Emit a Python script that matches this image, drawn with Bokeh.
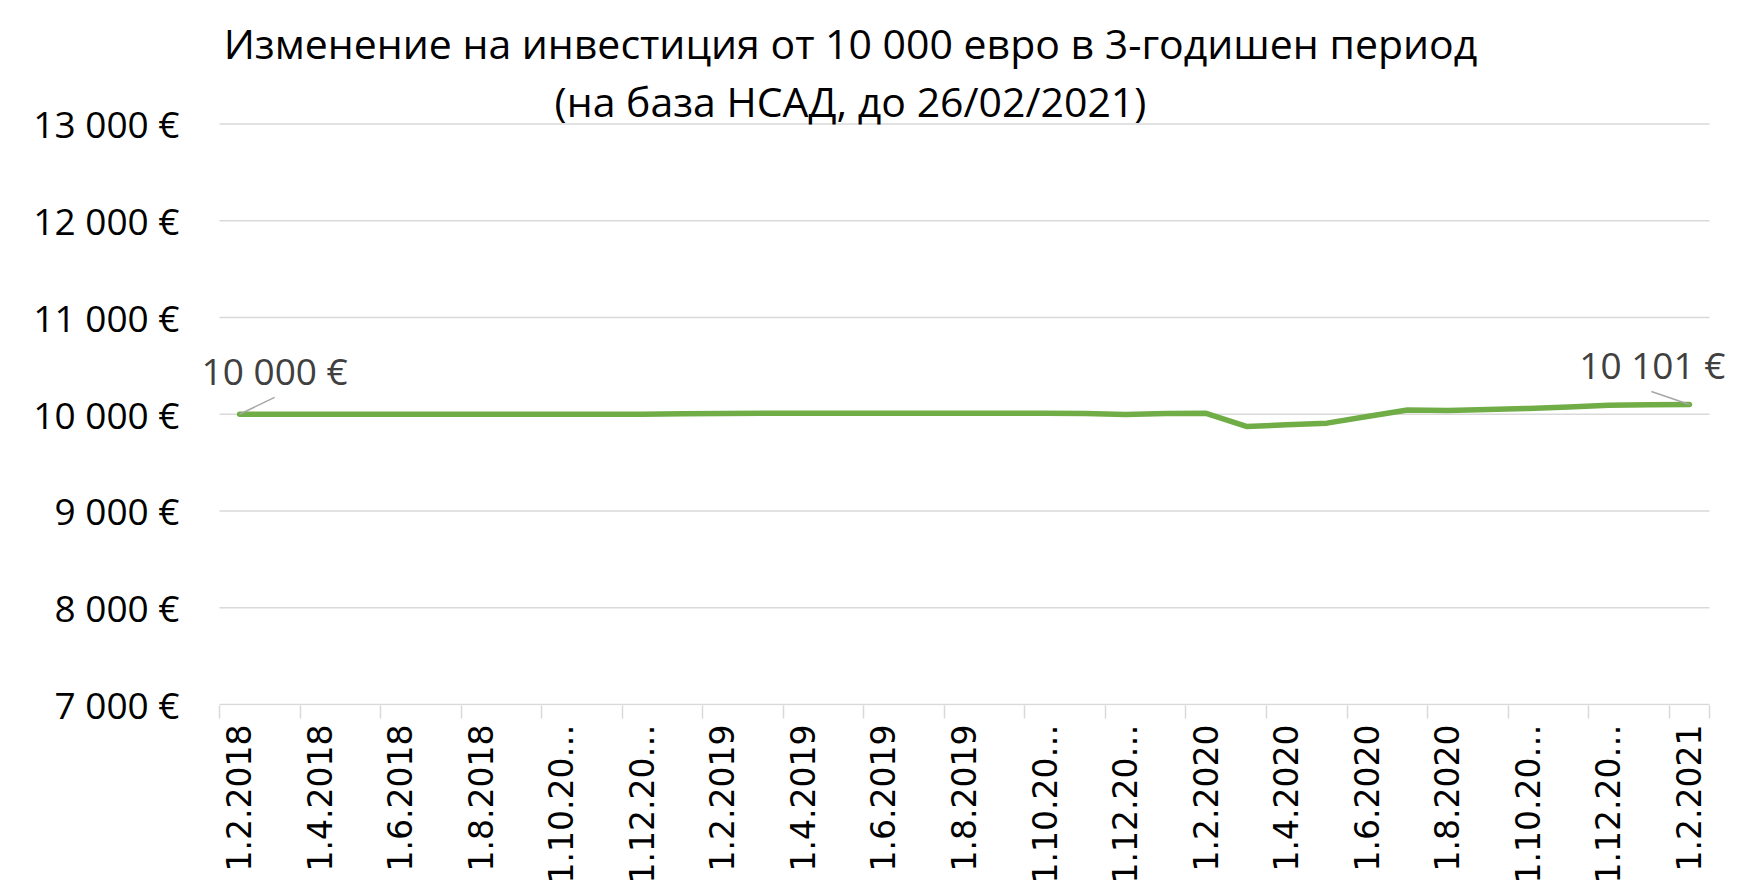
import math
from bokeh.plotting import figure
from bokeh.models import FixedTicker
from bokeh.embed import file_html
from bokeh.resources import INLINE
from bokeh.core.properties import value

# ---------------- data ----------------
dates = [
    "1.2.2018", "1.3.2018", "1.4.2018", "1.5.2018", "1.6.2018", "1.7.2018",
    "1.8.2018", "1.9.2018", "1.10.2018", "1.11.2018", "1.12.2018",
    "1.1.2019", "1.2.2019", "1.3.2019", "1.4.2019", "1.5.2019", "1.6.2019",
    "1.7.2019", "1.8.2019", "1.9.2019", "1.10.2019", "1.11.2019", "1.12.2019",
    "1.1.2020", "1.2.2020", "1.3.2020", "1.4.2020", "1.5.2020", "1.6.2020",
    "1.7.2020", "1.8.2020", "1.9.2020", "1.10.2020", "1.11.2020", "1.12.2020",
    "1.1.2021", "1.2.2021",
]
values = [
    10000, 10000, 10000, 10000, 10000, 10000, 10000, 10000, 10000, 10000, 10001,
    10004, 10008, 10009, 10009, 10009, 10009, 10009, 10009, 10009, 10009, 10008,
    9998, 10007, 10010, 9874, 9891, 9908, 9976, 10044, 10038, 10048, 10060,
    10075, 10094, 10099, 10101,
]
tick_labels = [
    "1.2.2018", "1.4.2018", "1.6.2018", "1.8.2018", "1.10.20\u2026", "1.12.20\u2026",
    "1.2.2019", "1.4.2019", "1.6.2019", "1.8.2019", "1.10.20\u2026", "1.12.20\u2026",
    "1.2.2020", "1.4.2020", "1.6.2020", "1.8.2020", "1.10.20\u2026", "1.12.20\u2026",
    "1.2.2021",
]
y_ticks = [7000, 8000, 9000, 10000, 11000, 12000, 13000]
y_tick_labels = ["7 000 \u20ac", "8 000 \u20ac", "9 000 \u20ac", "10 000 \u20ac",
                 "11 000 \u20ac", "12 000 \u20ac", "13 000 \u20ac"]
title_lines = ["\u0418\u0437\u043c\u0435\u043d\u0435\u043d\u0438\u0435 \u043d\u0430 \u0438\u043d\u0432\u0435\u0441\u0442\u0438\u0446\u0438\u044f \u043e\u0442 10 000 \u0435\u0432\u0440\u043e \u0432 3-\u0433\u043e\u0434\u0438\u0448\u0435\u043d \u043f\u0435\u0440\u0438\u043e\u0434",
               "(\u043d\u0430 \u0431\u0430\u0437\u0430 \u041d\u0421\u0410\u0414, \u0434\u043e 26/02/2021)"]
end_labels = ["10 000 \u20ac", "10 101 \u20ac"]

# ---------------- layout (pixels) ----------------
W, H = 1760, 886
FRAME_L, FRAME_R, FRAME_B = 190, 1745, 708      # drawing frame on the canvas
PLOT_L, PLOT_R = 219, 1709                       # category area
PLOT_T, PLOT_B = 124, 707                        # 13 000 and 7 000 lines

n = len(dates)
x = list(range(n))
px_x = (PLOT_R - PLOT_L) / n
px_y = (PLOT_B - PLOT_T) / (y_ticks[-1] - y_ticks[0])
x_lo, x_hi = -0.5, n - 0.5
x_start = x_lo - (PLOT_L - FRAME_L) / px_x
x_end = x_hi + (FRAME_R - PLOT_R) / px_x
y_start = y_ticks[0] - (FRAME_B - PLOT_B) / px_y
y_end = y_ticks[-1] + PLOT_T / px_y

p = figure(width=W, height=H, output_backend="svg", toolbar_location=None,
           x_range=(x_start, x_end), y_range=(y_start, y_end),
           min_border_left=FRAME_L, min_border_right=W - FRAME_R,
           min_border_top=0, min_border_bottom=H - FRAME_B)
p.outline_line_color = None
p.background_fill_color = "white"
p.border_fill_color = "white"

GRID = "#d9d9d9"

# horizontal grid lines (and the category axis line at 7 000)
p.segment(x0=[x_lo] * len(y_ticks), y0=y_ticks, x1=[x_hi] * len(y_ticks), y1=y_ticks,
          line_color=GRID, line_width=1.5)

# x axis: labels at every 2nd category, tick marks at category boundaries
centers = x[::2]
bounds = [c - 0.5 for c in centers] + [x_hi]
p.xaxis.ticker = FixedTicker(ticks=centers, minor_ticks=bounds)
p.xaxis.major_label_overrides = {c: lab for c, lab in zip(centers, tick_labels)}
p.xaxis.major_label_orientation = math.pi / 2
p.xaxis.major_tick_line_color = None
p.xaxis.major_tick_out = 13
p.xaxis.major_tick_in = 0
p.xaxis.minor_tick_out = 13
p.xaxis.minor_tick_in = 0
p.xaxis.minor_tick_line_color = GRID
p.xaxis.minor_tick_line_width = 1.5
p.xaxis.axis_line_color = None
p.xaxis.major_label_standoff = 6
p.xaxis.major_label_text_font = "DejaVu Sans"
p.xaxis.major_label_text_font_size = "33px"
p.xaxis.major_label_text_color = "black"
p.xgrid.grid_line_color = None

# y axis
p.yaxis.ticker = FixedTicker(ticks=y_ticks)
p.yaxis.major_label_overrides = {t: lab for t, lab in zip(y_ticks, y_tick_labels)}
p.yaxis.axis_line_color = None
p.yaxis.major_tick_line_color = None
p.yaxis.minor_tick_line_color = None
p.yaxis.major_tick_out = 0
p.yaxis.major_tick_in = 0
p.yaxis.major_label_standoff = 11
p.yaxis.major_label_text_font = "Open Sans"
p.yaxis.major_label_text_font_size = "37px"
p.yaxis.major_label_text_color = "black"
p.ygrid.grid_line_color = None

# line
p.line(x, values, line_color="#70AD47", line_width=5.5,
       line_join="round", line_cap="round")

# data labels with leader lines
first, last = 0, n - 1
lead = [(35, 17), (-38, 13)]
p.segment(x0=[first, last], y0=[values[first], values[last]],
          x1=[first + lead[0][0] / px_x, last + lead[1][0] / px_x],
          y1=[values[first] + lead[0][1] / px_y, values[last] + lead[1][1] / px_y],
          line_color="#a6a6a6", line_width=1.5)
p.text(x=[first, last], y=[values[first], values[last]], text=end_labels,
       x_offset=[35, -37], y_offset=[-44, -40],
       text_align="center", text_baseline="alphabetic",
       text_font=value("Open Sans"), text_font_size="37px", text_color="#404040")

# title (two centred lines)
title_x = x_lo + (850 - PLOT_L) / px_x
title_y = [y_ticks[-1] + (PLOT_T - 43) / px_y, y_ticks[-1] + (PLOT_T - 101) / px_y]
p.text(x=[title_x, title_x], y=title_y, text=title_lines,
       text_align="center", text_baseline="alphabetic",
       text_font=value("Open Sans"), text_font_size="41px", text_color="black")

open("out.html", "w").write(file_html(p, INLINE))
